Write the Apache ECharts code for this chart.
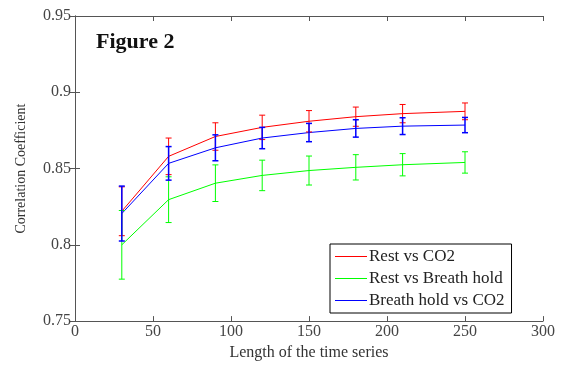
<!DOCTYPE html>
<html><head><meta charset="utf-8">
<script src="https://cdn.jsdelivr.net/npm/echarts@6/dist/echarts.min.js"></script>
<style>html,body{margin:0;padding:0;background:#fff;}#c{width:570px;height:366px;}</style>
</head><body><div id="c"></div>
<script>
const xVals = [30, 60, 90, 120, 150, 180, 210, 250];
const restCO2 = [0.822, 0.858, 0.871, 0.877, 0.881, 0.884, 0.886, 0.8875];
const restCO2Err = [0.016, 0.012, 0.009, 0.008, 0.007, 0.0063, 0.006, 0.0055];
const restBH = [0.800, 0.8296, 0.8404, 0.8455, 0.8487, 0.8508, 0.8525, 0.854];
const restBHErr = [0.0225, 0.015, 0.012, 0.010, 0.0095, 0.0083, 0.0073, 0.007];
const bhCO2 = [0.8205, 0.8534, 0.8636, 0.870, 0.8736, 0.8763, 0.8778, 0.8785];
const bhCO2Err = [0.018, 0.011, 0.0085, 0.007, 0.006, 0.0057, 0.0055, 0.005];
const seriesNames = ['Rest vs CO2', 'Rest vs Breath hold', 'Breath hold vs CO2'];
const colors = ['#ff0000', '#00ff00', '#0000ff'];
const titleText = 'Figure 2';
const xName = 'Length of the time series';
const yName = 'Correlation Coefficient';

const FONT = 'Liberation Serif';
const axisColor = '#555';
const chart = echarts.init(document.getElementById('c'));

function lineSeries(name, vals, color) {
  return {
    name: name, type: 'line', xAxisIndex: 0, yAxisIndex: 0,
    data: xVals.map((x, i) => [x, vals[i]]),
    showSymbol: false, symbol: 'none',
    lineStyle: { color: color, width: 1 }, itemStyle: { color: color },
    z: 3
  };
}
function errSeries(name, vals, errs, color, w) {
  return {
    name: name, type: 'custom', xAxisIndex: 0, yAxisIndex: 0,
    data: xVals.map((x, i) => [x, vals[i] - errs[i], vals[i] + errs[i]]),
    renderItem: function (params, api) {
      const lo = api.coord([api.value(0), api.value(1)]);
      const hi = api.coord([api.value(0), api.value(2)]);
      const hw = 3;
      const st = { stroke: color, lineWidth: w, fill: null };
      return { type: 'group', children: [
        { type: 'line', shape: { x1: lo[0], y1: lo[1], x2: hi[0], y2: hi[1] }, style: st },
        { type: 'line', shape: { x1: lo[0] - hw, y1: lo[1], x2: lo[0] + hw, y2: lo[1] }, style: st },
        { type: 'line', shape: { x1: hi[0] - hw, y1: hi[1], x2: hi[0] + hw, y2: hi[1] }, style: st }
      ]};
    },
    z: 4, silent: true
  };
}

const baseAxisLine = { show: true, lineStyle: { color: axisColor, width: 1 } };
const option = {
  animation: false,
  backgroundColor: '#fff',
  title: { text: titleText, left: 91, top: 26, textStyle: { fontFamily: FONT, fontWeight: 'bold', fontSize: 22, color: '#111' } },
  grid: { left: 75, right: 27, top: 16, bottom: 36, containLabel: false },
  legend: {
    orient: 'vertical', left: 330, top: 244,
    data: seriesNames.map((n, i) => ({ name: n, icon: 'rect', itemStyle: { color: colors[i] } })),
    itemWidth: 32, itemHeight: 1, itemGap: 5,
    padding: [4, 7, 4, 5],
    borderColor: '#000', borderWidth: 1, backgroundColor: '#fff',
    textStyle: { fontFamily: FONT, fontSize: 17, color: '#222', padding: [0, 0, 0, -3] }
  },
  xAxis: [
    { type: 'value', position: 'bottom', min: 0, max: 300, interval: 50,
      name: xName, nameLocation: 'middle', nameGap: 22,
      nameTextStyle: { fontFamily: FONT, fontSize: 16, color: '#333' },
      axisLine: baseAxisLine, axisTick: { show: true, inside: true, length: 5, lineStyle: { color: axisColor } },
      axisLabel: { fontFamily: FONT, fontSize: 16, color: '#444', margin: 3 },
      splitLine: { show: false } },
    { type: 'value', position: 'top', min: 0, max: 300, interval: 50,
      axisLine: baseAxisLine, axisTick: { show: true, inside: true, length: 5, lineStyle: { color: axisColor } },
      axisLabel: { show: false }, splitLine: { show: false } }
  ],
  yAxis: [
    { type: 'value', position: 'left', min: 0.75, max: 0.95, interval: 0.05,
      name: yName, nameLocation: 'middle', nameGap: 47, nameRotate: 90,
      nameTextStyle: { fontFamily: FONT, fontSize: 14, color: '#333' },
      axisLine: baseAxisLine, axisTick: { show: true, inside: true, length: 5, lineStyle: { color: axisColor } },
      axisLabel: { fontFamily: FONT, fontSize: 16, color: '#444', margin: 4, formatter: v => String(+v.toFixed(2)) },
      splitLine: { show: false } },
    { type: 'value', position: 'right', min: 0.75, max: 0.95, interval: 0.05,
      axisLine: baseAxisLine, axisTick: { show: true, inside: true, length: 5, lineStyle: { color: axisColor } },
      axisLabel: { show: false }, splitLine: { show: false } }
  ],
  series: [
    lineSeries(seriesNames[0], restCO2, colors[0]),
    errSeries(seriesNames[0], restCO2, restCO2Err, colors[0], 1),
    lineSeries(seriesNames[1], restBH, colors[1]),
    errSeries(seriesNames[1], restBH, restBHErr, colors[1], 1),
    lineSeries(seriesNames[2], bhCO2, colors[2]),
    errSeries(seriesNames[2], bhCO2, bhCO2Err, colors[2], 1.5)
  ]
};
chart.setOption(option);
</script></body></html>
